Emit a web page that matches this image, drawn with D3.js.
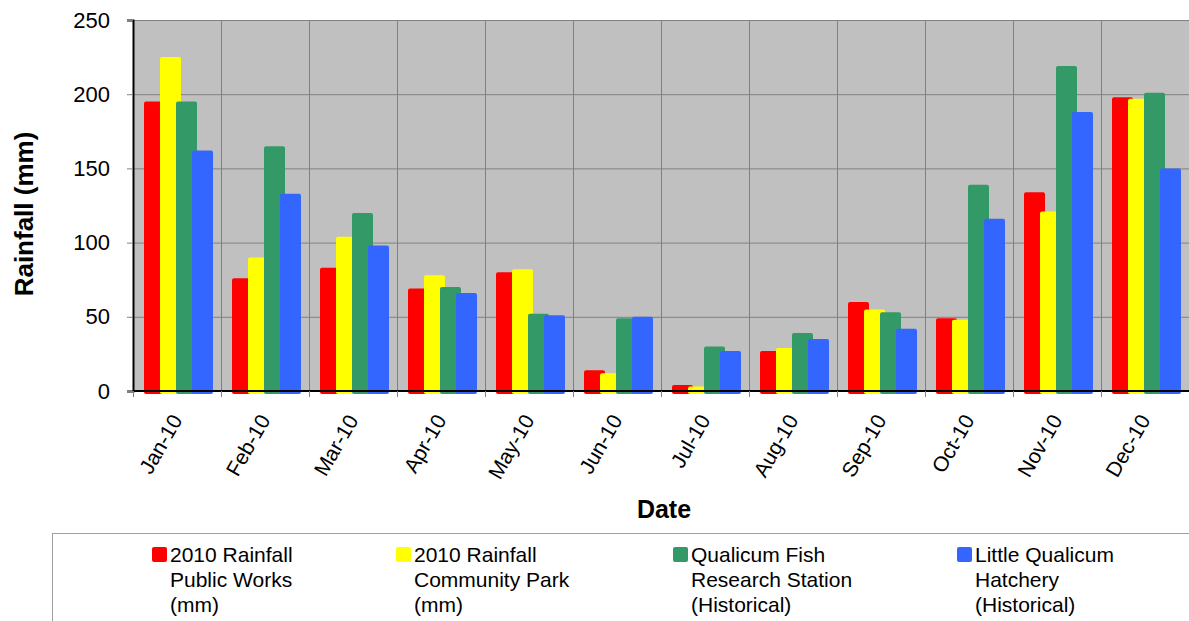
<!DOCTYPE html>
<html>
<head>
<meta charset="utf-8">
<script src="https://cdn.jsdelivr.net/npm/d3@7"></script>
<style>
  body { margin: 0; background: #fff; }
  svg text { font-family: "Liberation Sans", Arial, sans-serif; }
</style>
</head>
<body>
<div id="chart"></div>
<script>
const months = ["Jan-10", "Feb-10", "Mar-10", "Apr-10", "May-10", "Jun-10",
  "Jul-10", "Aug-10", "Sep-10", "Oct-10", "Nov-10", "Dec-10"];
const publicWorks = [195, 76, 83, 69, 80, 14, 4, 27, 60, 49, 134, 198];
const communityPark = [225, 90, 104, 78, 82, 12, 3, 29, 55, 48, 121, 197];
const fishStation = [195, 165, 120, 70, 52, 49, 30, 39, 53, 139, 219, 201];
const hatchery = [162, 133, 98, 66, 51, 50, 27, 35, 42, 116, 188, 150];
const seriesNames = [
  ["2010 Rainfall", "Public Works", "(mm)"],
  ["2010 Rainfall", "Community Park", "(mm)"],
  ["Qualicum Fish", "Research Station", "(Historical)"],
  ["Little Qualicum", "Hatchery", "(Historical)"]
];
const colors = ["#ff0000", "#ffff00", "#339966", "#3366ff"];
const yTicks = [0, 50, 100, 150, 200, 250];

const series = [publicWorks, communityPark, fishStation, hatchery];

const W = 1189, H = 621;
const MARGIN = { LEFT: 133, RIGHT: 0, TOP: 20, BOTTOM: 230 };
const WIDTH = W - MARGIN.LEFT - MARGIN.RIGHT;
const HEIGHT = H - MARGIN.TOP - MARGIN.BOTTOM;
const FONT = "'Liberation Sans', Arial, sans-serif";

const svg = d3.select("#chart").append("svg")
  .attr("width", W).attr("height", H)
  .attr("font-family", FONT);

const g = svg.append("g")
  .attr("transform", `translate(${MARGIN.LEFT}, ${MARGIN.TOP})`);

const x = d3.scaleBand().domain(months).range([0, WIDTH]);
const y = d3.scaleLinear().domain([0, 250]).range([HEIGHT, 0]);

// bars inside a month overlap a bit, like the excel original
const step = 16, barW = 21, inset = 11;
const xs = d3.scaleLinear().domain([0, 3]).range([inset, inset + 3 * step]);

// plot background + grid
g.append("rect").attr("width", WIDTH).attr("height", HEIGHT).attr("fill", "#c0c0c0");

g.selectAll(".hgrid").data(yTicks.slice(1)).join("line")
  .attr("x1", 0).attr("x2", WIDTH)
  .attr("y1", d => y(d) + 0.5).attr("y2", d => y(d) + 0.5)
  .attr("stroke", "#808080").attr("stroke-width", 1);

g.selectAll(".vgrid").data(months.slice(1)).join("line")
  .attr("x1", d => x(d) + 0.5).attr("x2", d => x(d) + 0.5)
  .attr("y1", 0).attr("y2", HEIGHT)
  .attr("stroke", "#808080").attr("stroke-width", 1);

// bars
series.forEach((vals, si) => {
  g.append("g").selectAll("rect").data(vals).join("rect")
    .attr("x", (d, i) => x(months[i]) + xs(si))
    .attr("y", d => y(d))
    .attr("width", barW)
    .attr("height", d => HEIGHT - y(d) + 3)
    .attr("rx", 2)
    .attr("fill", colors[si]);
});

// y axis
const yAxis = g.append("g")
  .call(d3.axisLeft(y).tickValues(yTicks).tickSize(6).tickPadding(17));
yAxis.attr("font-family", FONT);
yAxis.select(".domain").attr("stroke", "#000").attr("stroke-width", 2);
yAxis.selectAll(".tick line").attr("stroke", "#808080");
yAxis.selectAll(".tick text").attr("font-size", 22).attr("fill", "#000");

// x axis line + tick marks at boundaries
g.append("line").attr("x1", 0).attr("x2", WIDTH)
  .attr("y1", HEIGHT).attr("y2", HEIGHT)
  .attr("stroke", "#000").attr("stroke-width", 2);
g.selectAll(".xtick").data(months).join("line")
  .attr("x1", d => x(d) + 0.5).attr("x2", d => x(d) + 0.5)
  .attr("y1", HEIGHT).attr("y2", HEIGHT + 6)
  .attr("stroke", "#808080");

g.selectAll(".xlabel").data(months).join("text")
  .attr("transform", d => `translate(${x(d) + x.bandwidth() / 2 + 6}, ${HEIGHT + 29}) rotate(-60)`)
  .attr("text-anchor", "end")
  .attr("font-size", 21)
  .text(d => d);

// axis titles
svg.append("text")
  .attr("transform", `translate(33, ${214}) rotate(-90)`)
  .attr("text-anchor", "middle")
  .attr("font-size", 26).attr("font-weight", "bold")
  .text("Rainfall (mm)");

svg.append("text")
  .attr("x", 664).attr("y", 518)
  .attr("text-anchor", "middle")
  .attr("font-size", 25).attr("font-weight", "bold")
  .text("Date");

// legend
const leg = svg.append("g");
leg.append("rect")
  .attr("x", 52.5).attr("y", 533.5).attr("width", W).attr("height", 120)
  .attr("fill", "#fff").attr("stroke", "#a0a0a0");

const legX = [152, 396, 673, 957];
const item = leg.selectAll(".item").data(seriesNames).join("g")
  .attr("transform", (d, i) => `translate(${legX[i]}, 547)`);
item.append("rect")
  .attr("width", 15).attr("height", 15).attr("rx", 2)
  .attr("fill", (d, i) => colors[i]);
item.selectAll("text").data(d => d).join("text")
  .attr("x", 18)
  .attr("y", (d, j) => 15 + j * 25)
  .attr("font-size", 21)
  .text(d => d);
</script>
</body>
</html>
